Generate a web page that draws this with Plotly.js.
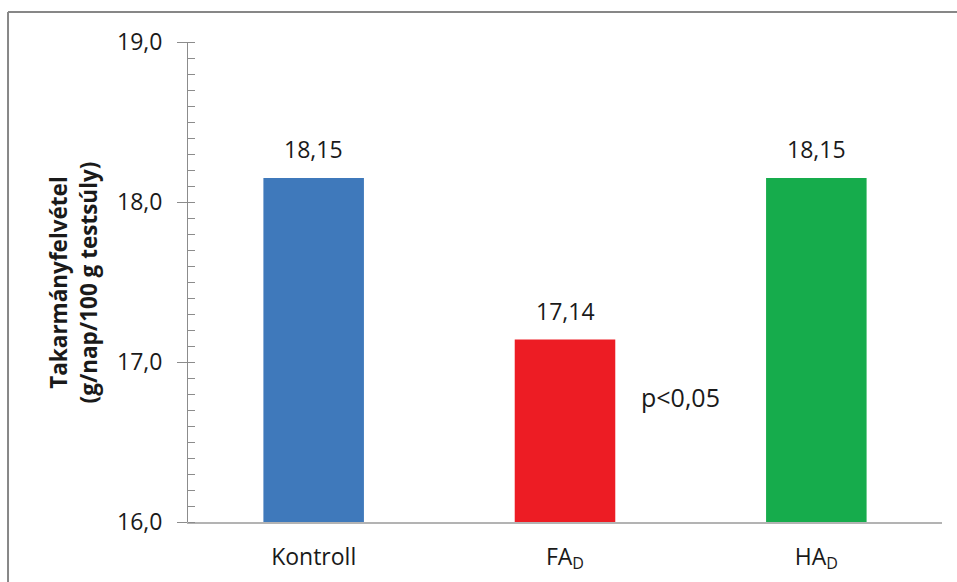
<!DOCTYPE html>
<html>
<head>
<meta charset="utf-8">
<script src="https://cdn.plot.ly/plotly-3.0.1.min.js"></script>
<style>
  html, body { margin: 0; padding: 0; background: #ffffff; }
  #chart { width: 957px; height: 582px; }
</style>
</head>
<body>
<div id="chart"></div>
<script>
// ---- data ----
const categories = ["Kontroll", "FA<sub>D</sub>", "HA<sub>D</sub>"];
const values = [18.15, 17.14, 18.15];
const barColors = ["#3F79BB", "#ED1C24", "#16AC4C"];
const yTitleLines = ["Takarmányfelvétel", "(g/nap/100 g testsúly)"];
const significanceText = "p<0,05";
const yRange = [16, 19];

const fontFamily = "'Open Sans', 'DejaVu Sans', sans-serif";
const textColor = "#1a1a1a";

function fmt(v) { return v.toFixed(2).replace(".", ","); }

const trace = {
  type: "bar",
  x: categories,
  y: values.map(v => v - yRange[0]),
  base: yRange[0],
  marker: { color: barColors, line: { width: 0 } },
  hoverinfo: "skip",
  showlegend: false
};

const dataLabels = categories.map((c, i) => ({
  x: c, y: values[i], xref: "x", yref: "y",
  text: fmt(values[i]), showarrow: false,
  yanchor: "bottom", yshift: 11,
  font: { family: fontFamily, size: 23, color: textColor }
}));

const layout = {
  width: 957, height: 582,
  margin: { l: 188, r: 15, t: 42, b: 60 },
  paper_bgcolor: "#ffffff", plot_bgcolor: "#ffffff",
  separators: ",.",
  bargap: 0.6,
  font: { family: fontFamily, size: 23, color: textColor },
  xaxis: {
    type: "category",
    showgrid: false, zeroline: false,
    showline: true, linecolor: "#b3b3b3", linewidth: 2,
    ticks: "", tickfont: { family: fontFamily, size: 23, color: textColor },
    ticklabelstandoff: 13,
    fixedrange: true
  },
  yaxis: {
    range: yRange, autorange: false,
    showgrid: false, zeroline: false,
    showline: true, linecolor: "#8c8c8c", linewidth: 1,
    ticks: "outside", ticklen: 10, tickcolor: "#8c8c8c", tickwidth: 1,
    dtick: 1, tick0: 16, tickformat: ".1f",
    tickfont: { family: fontFamily, size: 23, color: textColor },
    ticklabelstandoff: 10,
    minor: { dtick: 0.1, ticks: "inside", ticklen: 7, tickcolor: "#8c8c8c", tickwidth: 1 },
    fixedrange: true
  },
  yaxis2: {
    overlaying: "y", side: "left",
    range: yRange, autorange: false,
    showgrid: false, zeroline: false, showline: false,
    ticks: "inside", ticklen: 7, tickcolor: "#8c8c8c", tickwidth: 1,
    dtick: 1, tick0: 16, showticklabels: false, fixedrange: true
  },
  annotations: dataLabels.concat([
    {
      x: 1.46, y: 16.78, xref: "x", yref: "y",
      text: significanceText, showarrow: false,
      xanchor: "center", yanchor: "middle",
      font: { family: fontFamily, size: 25, color: textColor }
    },
    {
      x: -0.152, y: 0.5, xref: "paper", yref: "paper",
      text: "<b>" + yTitleLines.join("<br>") + "</b>",
      textangle: -90, showarrow: false,
      xanchor: "center", yanchor: "middle",
      font: { family: fontFamily, size: 22.5, color: textColor }
    }
  ]),
  shapes: [
    { type: "line", xref: "paper", yref: "paper",
      x0: -0.2387, x1: -0.2387, y0: 1.0625, y1: -0.2,
      line: { color: "#878787", width: 2 } },
    { type: "line", xref: "paper", yref: "paper",
      x0: -0.2387, x1: 1.1, y0: 1.0625, y1: 1.0625,
      line: { color: "#878787", width: 2 } }
  ]
};

const ticksOverlay = { type: "scatter", x: [categories[0]], y: [yRange[0]], yaxis: "y2",
  mode: "markers", marker: { opacity: 0 }, showlegend: false, hoverinfo: "skip" };

Plotly.newPlot("chart", [trace, ticksOverlay], layout, { displayModeBar: false, staticPlot: true });
</script>
</body>
</html>
